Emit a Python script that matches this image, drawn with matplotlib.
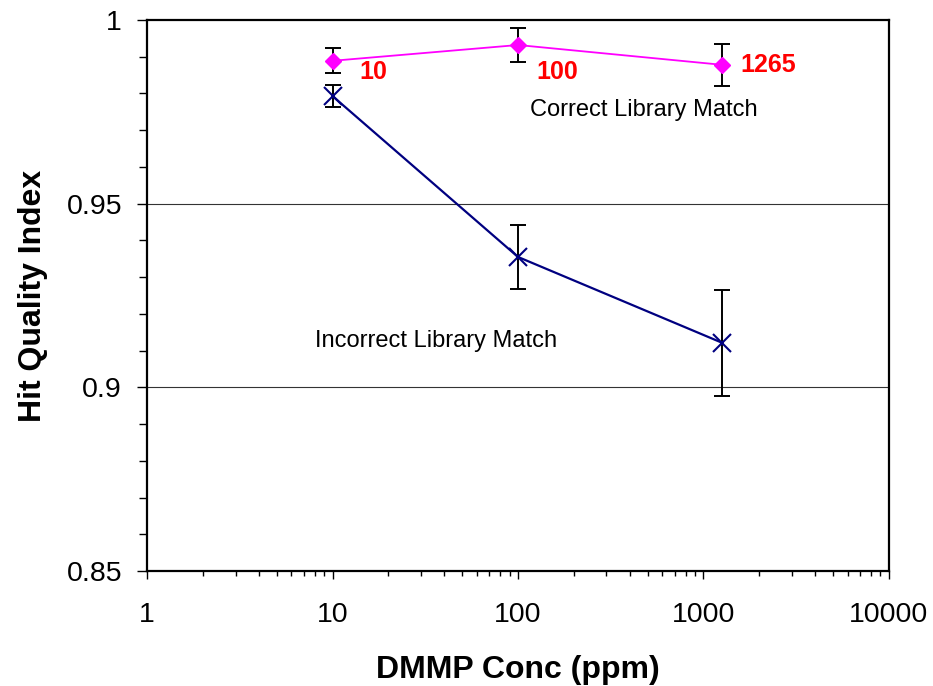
import matplotlib
matplotlib.use('Agg')
import matplotlib.pyplot as plt
from matplotlib.ticker import FixedLocator, LogLocator, NullFormatter, FuncFormatter
import numpy as np

plt.rcParams['font.family'] = ['Liberation Sans', 'DejaVu Sans']

# DMMP concentration (ppm) and hit quality index
conc = [10, 100, 1265]
conc_labels = ['10', '100', '1265']

hqi_correct = [0.9889, 0.9932, 0.9878]
err_correct = [0.0034, 0.0046, 0.0057]

hqi_incorrect = [0.9793, 0.9355, 0.9121]
err_incorrect = [0.0031, 0.0087, 0.0144]

# label offsets for the concentration tags (points)
tag_offsets = [(19, -8), (13, -19.5), (13, 0)]

fig = plt.figure(figsize=(9.33, 6.86), dpi=100)
ax = fig.add_axes([0.1576, 0.1676, 0.9528 - 0.1576, 0.9708 - 0.1676])

ax.set_xscale('log')
ax.set_xlim(1, 10000)
ax.set_ylim(0.85, 1.0)

# horizontal grid at the inner major ticks
for yg in [0.9, 0.95]:
    ax.axhline(yg, color='#333333', lw=0.8, zorder=1)

# error bars first, lines and markers on top
ax.errorbar(conc, hqi_correct, yerr=err_correct, fmt='none', ecolor='black',
            elinewidth=1.4, capsize=6, capthick=1.4, zorder=2)
ax.errorbar(conc, hqi_incorrect, yerr=err_incorrect, fmt='none', ecolor='black',
            elinewidth=1.4, capsize=6, capthick=1.4, zorder=2)

ax.plot(conc, hqi_correct, color='#FF00FF', lw=1.3, marker='D', ms=8,
        mfc='#FF00FF', mec='#FF00FF', zorder=3)
ax.plot(conc, hqi_incorrect, color='#000080', lw=1.6, marker='x', ms=13,
        mew=1.5, zorder=3)

for c, h, lab, off in zip(conc, hqi_correct, conc_labels, tag_offsets):
    ax.annotate(lab, xy=(c, h), xytext=off, textcoords='offset points',
                color='#FF0000', fontsize=18, fontweight='bold',
                ha='left', va='center')

ax.text(478, 0.9755, 'Correct Library Match', fontsize=17, ha='center', va='center')
ax.text(36.1, 0.9125, 'Incorrect Library Match', fontsize=17, ha='center', va='center')

# ticks
ax.yaxis.set_major_locator(FixedLocator([0.85, 0.9, 0.95, 1.0]))
ax.yaxis.set_minor_locator(FixedLocator(np.arange(0.85, 1.0, 0.01)))
ax.yaxis.set_major_formatter(FuncFormatter(lambda v, p: ('%.2f' % v).rstrip('0').rstrip('.')))
ax.xaxis.set_major_locator(LogLocator(base=10))
ax.xaxis.set_minor_locator(LogLocator(base=10, subs=np.arange(2, 10)))
ax.xaxis.set_minor_formatter(NullFormatter())
ax.xaxis.set_major_formatter(FuncFormatter(lambda v, p: '%d' % v))

ax.tick_params(axis='y', which='major', direction='out', length=7, width=1, labelsize=20.5, pad=11)
ax.tick_params(axis='y', which='minor', direction='out', length=5.5, width=1)
ax.tick_params(axis='x', which='major', direction='out', length=6, width=1, labelsize=20.5, pad=16)
ax.tick_params(axis='x', which='minor', direction='out', length=3.5, width=1)

for s in ax.spines.values():
    s.set_linewidth(1.6)

ax.set_xlabel('DMMP Conc (ppm)', fontsize=23, fontweight='bold', labelpad=20)
ax.set_ylabel('Hit Quality Index', fontsize=23, fontweight='bold', labelpad=13)

fig.savefig('out.png', dpi=100)
